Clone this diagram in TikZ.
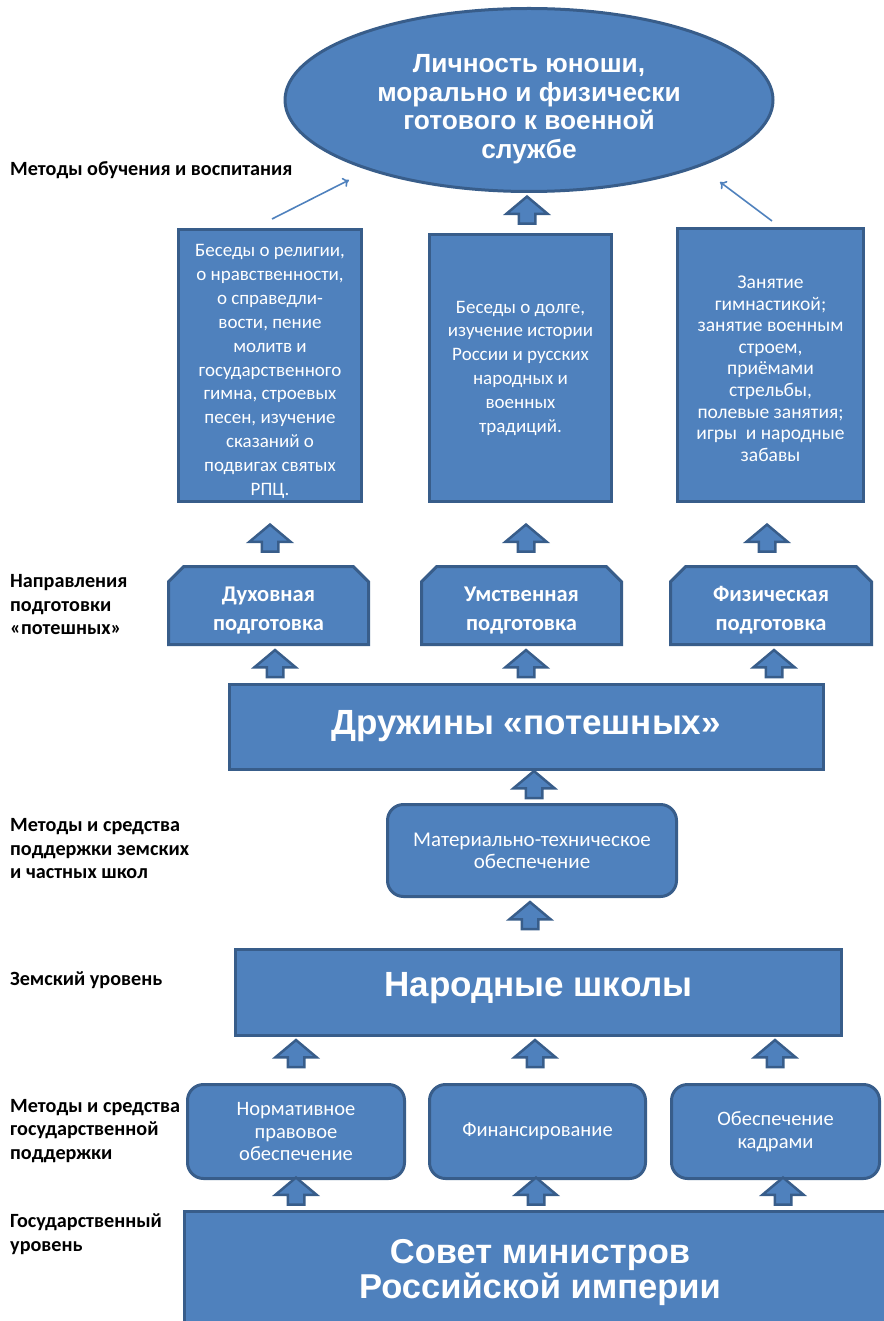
\documentclass[tikz,border=0pt]{standalone}
\usepackage{fontspec}
\setmainfont{Carlito}
\newfontfamily\headfont{Liberation Sans}
\usetikzlibrary{arrows.meta,shapes.geometric,shapes.misc,shapes.arrows}
\definecolor{boxfill}{RGB}{79,129,189}
\definecolor{boxline}{RGB}{56,93,138}
\tikzset{
  blockbox/.style={draw=boxline,fill=boxfill,line width=3pt,text=white,align=center,inner sep=0pt},
  roundbox/.style={blockbox,rounded corners=16pt,font=\fontsize{20.5}{22.5}\selectfont},
  cutbox/.style={blockbox,chamfered rectangle,chamfered rectangle corners={north west,north east},chamfered rectangle xsep=12pt,
    minimum height=78pt,font=\bfseries\fontsize{22.5}{29}\selectfont},
  uparrow/.style={single arrow,shape border rotate=90,draw=boxline,fill=boxfill,line width=2.5pt,
    minimum height=27pt,single arrow head extend=12.5pt,single arrow tip angle=100,inner sep=7pt},
  sidelabel/.style={anchor=west,align=left,inner sep=0pt,font=\bfseries\fontsize{20.2}{23.5}\selectfont},
  thinarrow/.style={draw=boxfill,line width=1.6pt,-{To[length=6pt,width=10pt]}},
  headtext/.style={font=\headfont\bfseries\fontsize{35}{36}\selectfont}
}
\begin{document}
\begin{tikzpicture}[x=1pt,y=-1pt]
  \useasboundingbox (0,0) rectangle (883,1321);

  % top goal
  \node[blockbox,ellipse,minimum width=488pt,minimum height=183pt,
        font=\headfont\bfseries\fontsize{26.3}{28.5}\selectfont] (goal) at (529,100)
        {\rule{0pt}{36pt}Личность юноши,\\морально и физически\\готового к военной\\службе};

  % methods of training
  \node[blockbox,minimum width=183pt,minimum height=272pt,font=\fontsize{19}{23.9}\selectfont] (relig) at (270,365.5)
        {\rule{0pt}{24pt}Беседы о религии,\\о нравственности,\\о справедли-\\вости, пение\\молитв и\\государственного\\гимна, строевых\\песен, изучение\\сказаний о\\подвигах святых\\РПЦ.};
  \node[blockbox,minimum width=182pt,minimum height=267pt,font=\fontsize{19}{23.8}\selectfont] (mind) at (520.5,368)
        {Беседы о долге,\\изучение истории\\России и русских\\народных и\\военных\\традиций.};
  \node[blockbox,minimum width=186pt,minimum height=273pt,font=\fontsize{19.5}{21.6}\selectfont] (phys) at (770.5,365)
        {\rule{0pt}{20pt}Занятие\\гимнастикой;\\занятие военным\\строем,\\приёмами\\стрельбы,\\полевые занятия;\\игры\ \ и народные\\забавы};

  % directions
  \node[cutbox,minimum width=200pt] (spirit) at (268.5,605.5) {\rule{0pt}{24pt}Духовная\\подготовка};
  \node[cutbox,minimum width=200pt] (mental) at (521.5,605.5) {\rule{0pt}{24pt}Умственная\\подготовка};
  \node[cutbox,minimum width=201pt] (body) at (771,605.5) {\rule{0pt}{24pt}Физическая\\подготовка};

  \node[blockbox,minimum width=594pt,minimum height=85pt,headtext,text depth=10pt] (squad) at (526,727) {Дружины «потешных»};
  \node[roundbox,minimum width=289pt,minimum height=92pt,font=\fontsize{21}{22}\selectfont] (supply) at (532,850.5)
        {Материально-техническое\\обеспечение};
  \node[blockbox,minimum width=606pt,minimum height=86pt,headtext,text depth=17pt] (school) at (538.5,992.5) {Народные школы};

  % state support
  \node[roundbox,minimum width=217pt,minimum height=94pt] (law) at (296,1131.5) {Нормативное\\правовое\\обеспечение};
  \node[roundbox,minimum width=216pt,minimum height=94pt] (money) at (537.5,1131.5) {Финансирование};
  \node[roundbox,minimum width=208pt,minimum height=94pt] (staff) at (775.5,1131.5) {Обеспечение\\кадрами};
  \node[blockbox,minimum width=711pt,minimum height=124pt,font=\headfont\bfseries\fontsize{34.5}{35}\selectfont] (council) at (540,1273)
        {Совет министров\\Российской империи};

  % block arrows
  \node[uparrow] (u0) at (527,213.5) {};
  \node[uparrow] (u1) at (270,541.5) {};
  \node[uparrow] (u2) at (526,541.5) {};
  \node[uparrow] (u3) at (767,541.5) {};
  \node[uparrow] (u4) at (275,667) {};
  \node[uparrow] (u5) at (526,667) {};
  \node[uparrow] (u6) at (774,667) {};
  \node[uparrow] (u7) at (534,788) {};
  \node[uparrow] (u8) at (530,919) {};
  \node[uparrow] (u9) at (296,1057) {};
  \node[uparrow] (u10) at (535,1057) {};
  \node[uparrow] (u11) at (775,1057) {};
  \node[uparrow] (u12) at (296,1194.5) {};
  \node[uparrow] (u13) at (536,1194.5) {};
  \node[uparrow] (u14) at (783,1194.5) {};

  % thin arrows to the goal
  \coordinate (l0) at (272,219);
  \coordinate (l1) at (349,180);
  \coordinate (r0) at (772,221);
  \coordinate (r1) at (720,182);
  \path (l0) edge[thinarrow] (l1)
        (r0) edge[thinarrow] (r1);

  % level labels
  \node[sidelabel] (lab1) at (10,170) {Методы обучения и воспитания};
  \node[sidelabel] (lab2) at (10,605) {Направления\\подготовки\\«потешных»};
  \node[sidelabel] (lab3) at (10,849) {Методы и средства\\поддержки земских\\и частных школ};
  \node[sidelabel] (lab4) at (10,980) {Земский уровень};
  \node[sidelabel] (lab5) at (10,1131) {Методы и средства\\государственной\\поддержки};
  \node[sidelabel] (lab6) at (10,1234) {Государственный\\уровень};
\end{tikzpicture}
\end{document}
